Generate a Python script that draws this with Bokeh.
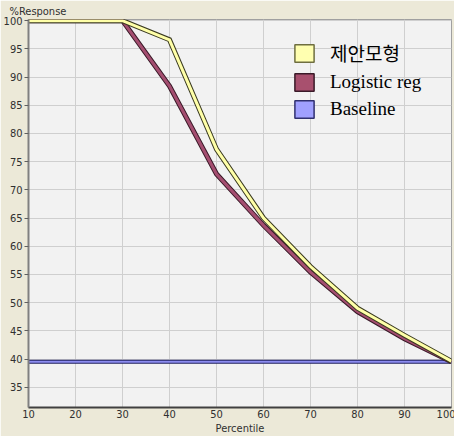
from bokeh.plotting import figure
from bokeh.models import ColumnDataSource, Legend, LegendItem, FixedTicker, Range1d
from bokeh.embed import file_html
from bokeh.resources import INLINE

# ---- data ----
percentile = [10, 20, 30, 40, 50, 60, 70, 80, 90, 100]
proposed = [100, 100, 100, 96.6, 77.2, 65.0, 56.4, 49.0, 44.2, 39.6]
logistic = [100, 100, 100, 88.4, 72.8, 63.7, 55.4, 48.4, 43.6, 39.5]
baseline = [39.5, 39.5, 39.5, 39.5, 39.5, 39.5, 39.5, 39.5, 39.5, 39.5]
series_names = ["제안모형", "Logistic reg", "Baseline"]
x_ticks = [10, 20, 30, 40, 50, 60, 70, 80, 90, 100]
y_ticks = [35, 40, 45, 50, 55, 60, 65, 70, 75, 80, 85, 90, 95, 100]

src = ColumnDataSource(dict(x=percentile, p=proposed, l=logistic, b=baseline))

TICK_FONT = "'Liberation Sans Narrow', 'DejaVu Sans Condensed', sans-serif"

p = figure(frame_width=423, frame_height=388, output_backend="svg", toolbar_location=None,
           x_range=Range1d(10, 100), y_range=Range1d(31.4, 100.2),
           min_border_left=19, min_border_right=4, min_border_top=17, min_border_bottom=27,
           title="%Response")

p.background_fill_color = "#F2F2F2"
p.border_fill_color = "#ECE9D8"
p.outline_line_color = "#A0A0A0"

p.title.text_font_size = "11px"
p.title.text_font = TICK_FONT
p.title.text_font_style = "normal"
p.title.text_color = "#303030"
p.title.align = "left"
p.title.offset = -19
p.title.standoff = 4

# grid
p.xgrid.ticker = FixedTicker(ticks=x_ticks)
p.ygrid.ticker = FixedTicker(ticks=y_ticks)
p.grid.grid_line_color = "#CFCFCF"
p.grid.grid_line_width = 1

# axes
p.xaxis.ticker = FixedTicker(ticks=x_ticks)
p.yaxis.ticker = FixedTicker(ticks=y_ticks)
for ax in (p.xaxis[0], p.yaxis[0]):
    ax.major_label_text_font = TICK_FONT
    ax.major_label_text_font_size = "11px"
    ax.major_label_text_color = "#303030"
    ax.minor_tick_line_color = None
    ax.major_tick_in = 0
    ax.axis_line_width = 2
p.xaxis.axis_line_color = "#404040"
p.yaxis.axis_line_color = "#808080"
p.xaxis.major_tick_out = 0
p.xaxis.major_label_standoff = 2
p.yaxis.major_tick_out = 4
p.yaxis.major_tick_line_color = "#606060"
p.yaxis.major_label_standoff = 2
p.xaxis.axis_label = "Percentile"
p.xaxis.axis_label_text_font = TICK_FONT
p.xaxis.axis_label_text_font_size = "11px"
p.xaxis.axis_label_text_font_style = "normal"
p.xaxis.axis_label_text_color = "#303030"
p.xaxis.axis_label_standoff = 1

# lines (dark outline + coloured body)
p.line("x", "b", source=src, line_color="#202060", line_width=4)
p.line("x", "b", source=src, line_color="#8C8CF0", line_width=2)
p.line("x", "l", source=src, line_color="#3A1A28", line_width=5, line_join="miter")
p.line("x", "l", source=src, line_color="#A44E70", line_width=3, line_join="miter")
p.line("x", "p", source=src, line_color="#3A3A20", line_width=5, line_join="miter")
p.line("x", "p", source=src, line_color="#FFFFA8", line_width=3, line_join="miter")

# legend swatches (renderers with no visible geometry)
nan = float("nan")
sw_colors = ["#FFFFB0", "#A8506E", "#A0A0FF"]
sw_lines = ["#6E6E40", "#3A1A28", "#303070"]
items = []
for name, fc, lc in zip(series_names, sw_colors, sw_lines):
    s = ColumnDataSource(dict(left=[nan], right=[nan], top=[nan], bottom=[nan]))
    r = p.quad(left="left", right="right", top="top", bottom="bottom", source=s,
               fill_color=fc, line_color=lc, line_width=1.5)
    items.append(LegendItem(label=name, renderers=[r], index=0))

legend = Legend(items=items, location=(264, 287), orientation="vertical",
                glyph_width=24, glyph_height=22, label_height=22, spacing=5,
                label_standoff=14, padding=0, margin=0,
                background_fill_alpha=0, border_line_color=None,
                label_text_font="'Liberation Serif', 'Noto Sans CJK KR', serif",
                label_text_font_size="19px", label_text_color="#000000")
p.add_layout(legend, "center")

open("out.html", "w").write(file_html(p, INLINE))
